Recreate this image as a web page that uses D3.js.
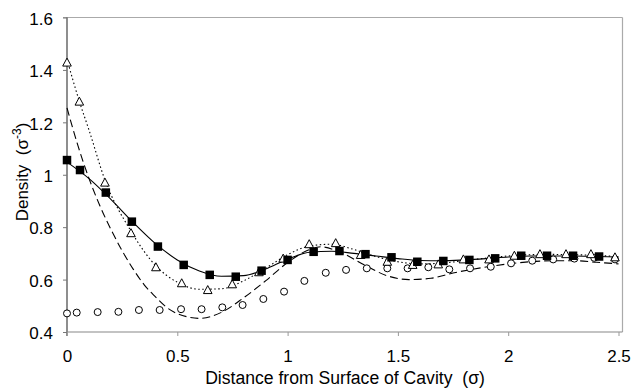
<!DOCTYPE html>
<html><head><meta charset="utf-8">
<script src="https://cdn.jsdelivr.net/npm/d3@7"></script>
<style>body{margin:0;background:#fff}svg{display:block}text{font-family:"Liberation Sans",Arial,sans-serif;fill:#000}</style>
</head><body><svg id="c" width="636" height="388"></svg>
<script>
// ---- data ----
const xTicks = [0, 0.5, 1, 1.5, 2, 2.5];
const yTicks = [0.4, 0.6, 0.8, 1, 1.2, 1.4, 1.6];
const xTickLabels = ["0", "0.5", "1", "1.5", "2", "2.5"];
const yTickLabels = ["0.4", "0.6", "0.8", "1", "1.2", "1.4", "1.6"];

const squareX = [0, 0.059, 0.176, 0.294, 0.412, 0.529, 0.647, 0.765, 0.882, 1.0, 1.118, 1.235, 1.353, 1.471, 1.588, 1.706, 1.824, 1.941, 2.059, 2.176, 2.294, 2.412];
const squareY = [1.056, 1.018, 0.932, 0.821, 0.726, 0.656, 0.618, 0.611, 0.634, 0.675, 0.706, 0.709, 0.697, 0.685, 0.668, 0.671, 0.675, 0.681, 0.691, 0.691, 0.691, 0.688];

const triX = [0, 0.056, 0.172, 0.29, 0.403, 0.52, 0.638, 0.749, 0.87, 0.98, 1.098, 1.218, 1.331, 1.452, 1.567, 1.683, 1.797, 1.913, 2.028, 2.144, 2.262, 2.375, 2.484];
const triY = [1.428, 1.279, 0.970, 0.777, 0.647, 0.586, 0.560, 0.582, 0.628, 0.68, 0.735, 0.739, 0.694, 0.668, 0.656, 0.658, 0.677, 0.677, 0.691, 0.697, 0.697, 0.697, 0.685];

const circX = [0, 0.044, 0.139, 0.233, 0.326, 0.42, 0.517, 0.61, 0.704, 0.796, 0.89, 0.984, 1.076, 1.173, 1.265, 1.359, 1.452, 1.544, 1.638, 1.733, 1.827, 1.921, 2.013, 2.109, 2.204, 2.30, 2.39, 2.484];
const circY = [0.471, 0.474, 0.476, 0.477, 0.484, 0.484, 0.487, 0.487, 0.494, 0.503, 0.526, 0.554, 0.595, 0.626, 0.637, 0.643, 0.643, 0.643, 0.647, 0.639, 0.643, 0.649, 0.662, 0.672, 0.677, 0.68, 0.683, 0.677];

const solidX = [0, 0.1, 0.2, 0.3, 0.4, 0.5, 0.6, 0.7, 0.8, 0.9, 1.0, 1.1, 1.2, 1.3, 1.4, 1.5, 1.6, 1.7, 1.8, 1.9, 2.0, 2.1, 2.2, 2.3, 2.4, 2.5];
const solidY = [1.048, 0.985, 0.905, 0.818, 0.738, 0.675, 0.633, 0.613, 0.615, 0.640, 0.678, 0.704, 0.708, 0.700, 0.690, 0.680, 0.673, 0.672, 0.675, 0.680, 0.686, 0.690, 0.690, 0.690, 0.688, 0.686];

const dotX = [0, 0.056, 0.1, 0.172, 0.29, 0.4, 0.5, 0.6, 0.7, 0.8, 0.9, 1.0, 1.1, 1.2, 1.3, 1.4, 1.5, 1.6, 1.7, 1.8, 1.9, 2.0, 2.1, 2.2, 2.3, 2.4, 2.5];
const dotY = [1.44, 1.28, 1.17, 0.98, 0.785, 0.655, 0.59, 0.563, 0.565, 0.595, 0.643, 0.695, 0.728, 0.735, 0.715, 0.688, 0.668, 0.660, 0.663, 0.672, 0.682, 0.690, 0.695, 0.696, 0.695, 0.692, 0.688];

const dashX = [0, 0.05, 0.1, 0.15, 0.2, 0.25, 0.3, 0.35, 0.4, 0.45, 0.5, 0.55, 0.6, 0.7, 0.8, 0.9, 1.0, 1.1, 1.15, 1.25, 1.35, 1.45, 1.55, 1.65, 1.75, 1.9, 2.0, 2.1, 2.2, 2.3, 2.4, 2.5];
const dashY = [1.255, 1.11, 0.985, 0.88, 0.79, 0.71, 0.64, 0.58, 0.535, 0.495, 0.47, 0.457, 0.452, 0.475, 0.53, 0.595, 0.665, 0.715, 0.725, 0.70, 0.655, 0.615, 0.60, 0.605, 0.625, 0.648, 0.66, 0.668, 0.672, 0.672, 0.666, 0.66];

// ---- chart ----
const svg = d3.select("#c");
const pL = 67, pR = 622.5, pT = 17.5, pB = 332;
const x = d3.scaleLinear().domain([0, 2.5]).range([67, 618.5]);
const y = d3.scaleLinear().domain([0.4, 1.6]).range([332, 17.5]);

// frame
svg.append("line").attr("x1", pL - 4).attr("x2", pR).attr("y1", pT).attr("y2", pT).attr("stroke", "#aaa").attr("stroke-width", 1.2);
svg.append("line").attr("x1", pR).attr("x2", pR).attr("y1", pT).attr("y2", pB).attr("stroke", "#aaa").attr("stroke-width", 1.2);

// axes
const yAxis = d3.axisLeft(y).tickValues(yTicks).tickFormat((d, i) => yTickLabels[i]).tickSize(4).tickPadding(10);
const gy = svg.append("g").attr("transform", `translate(${pL},0)`).call(yAxis);
gy.select(".domain").attr("d", `M0,${pT}V${pB + 4}`).attr("stroke", "#444").attr("stroke-width", 1.2);
gy.selectAll(".tick line").attr("stroke", "#777");
gy.selectAll(".tick text").style("font-size", "17px").attr("dy", "0.4em");

const xAxis = d3.axisBottom(x).tickValues(xTicks).tickFormat((d, i) => xTickLabels[i]).tickSize(4).tickPadding(14);
const gx = svg.append("g").attr("transform", `translate(0,${pB})`).call(xAxis);
gx.select(".domain").attr("d", `M${pL},0H${pR}`).attr("stroke", "#888").attr("stroke-width", 1.2);
gx.selectAll(".tick line").attr("stroke", "#999");
gx.selectAll(".tick text").style("font-size", "17px");

// titles
svg.append("text").attr("x", 345).attr("y", 384).attr("text-anchor", "middle").style("font-size", "17.6px")
  .attr("xml:space", "preserve").text("Distance from Surface of Cavity  (\u03C3)");
const yt = svg.append("text").attr("transform", "translate(28,172) rotate(-90)").attr("text-anchor", "middle").style("font-size", "17px").attr("xml:space", "preserve");
yt.append("tspan").text("Density  (\u03C3");
yt.append("tspan").attr("dy", "-7").style("font-size", "12px").text("-3");
yt.append("tspan").attr("dy", "7").text(")");

// lines
const mk = (xs, ys) => xs.map((v, i) => [v, ys[i]]);
const line = d3.line().x(d => x(d[0])).y(d => y(d[1])).curve(d3.curveMonotoneX);
svg.append("path").attr("d", line(mk(dashX, dashY))).attr("fill", "none").attr("stroke", "#000").attr("stroke-width", 1.1).attr("stroke-dasharray", "8,4");
svg.append("path").attr("d", line(mk(dotX, dotY))).attr("fill", "none").attr("stroke", "#000").attr("stroke-width", 1.1).attr("stroke-dasharray", "1.5,2.5");
svg.append("path").attr("d", line(mk(solidX, solidY))).attr("fill", "none").attr("stroke", "#000").attr("stroke-width", 1.1);

// markers
svg.append("g").selectAll("circle").data(mk(circX, circY)).join("circle")
  .attr("cx", d => x(d[0])).attr("cy", d => y(d[1])).attr("r", 3.5)
  .attr("fill", "#fff").attr("stroke", "#000").attr("stroke-width", 1);
svg.append("g").selectAll("path").data(mk(triX, triY)).join("path")
  .attr("transform", d => `translate(${x(d[0])},${y(d[1])})`)
  .attr("d", "M0,-4.5L4.3,3.5L-4.3,3.5Z")
  .attr("fill", "#fff").attr("stroke", "#000").attr("stroke-width", 1);
svg.append("g").selectAll("rect").data(mk(squareX, squareY)).join("rect")
  .attr("x", d => x(d[0]) - 4.25).attr("y", d => y(d[1]) - 4.25).attr("width", 8.5).attr("height", 8.5)
  .attr("fill", "#000");
</script></body></html>
